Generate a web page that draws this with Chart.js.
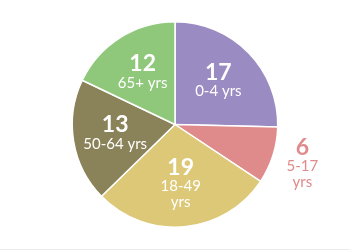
<!DOCTYPE html>
<html>
<head>
<meta charset="utf-8">
<script src="https://cdn.jsdelivr.net/npm/chart.js@4.4.0/dist/chart.umd.min.js"></script>
<style>
  html, body { margin: 0; padding: 0; background: #fff; }
  #wrap { width: 350px; height: 249px; border-bottom: 1px solid #ececec; }
</style>
</head>
<body>
<div id="wrap"><canvas id="pieChart" width="350" height="249"></canvas></div>
<script>
// --- DATA ---
const ageGroups = ['0-4 yrs', ['5-17', 'yrs'], ['18-49', 'yrs'], '50-64 yrs', '65+ yrs'];
const counts = [17, 6, 19, 13, 12];
const sliceColors = ['#9a8bc3', '#df8a8b', '#dcc877', '#8a8258', '#8fc87b'];

// draws the number + age group on (or beside) each slice
const sliceLabels = {
    id: 'sliceLabels',
    afterDatasetsDraw(chart) {
        const ctx = chart.ctx;
        const meta = chart.getDatasetMeta(0);
        const total = counts.reduce((a, b) => a + b, 0);
        meta.data.forEach((arc, i) => {
            const p = arc.getProps(['x', 'y', 'startAngle', 'endAngle', 'outerRadius'], true);
            const mid = (p.startAngle + p.endAngle) / 2;
            const outside = counts[i] / total < 0.1;
            const r = p.outerRadius * (outside ? 1.3 : 0.59);
            const cx = p.x + Math.cos(mid) * r;
            const cy = p.y + Math.sin(mid) * r;
            const lines = Array.isArray(ageGroups[i]) ? ageGroups[i] : [ageGroups[i]];
            const blockH = 19 + (lines.length - 1) * 15.5;
            let y = cy - blockH / 2;
            ctx.save();
            ctx.fillStyle = outside ? sliceColors[i] : '#ffffff';
            ctx.textAlign = 'center';
            ctx.textBaseline = 'middle';
            ctx.font = 'bold 23px Lato';
            ctx.fillText(String(counts[i]), cx, y);
            ctx.font = '15px Lato';
            y += 19;
            lines.forEach(line => {
                ctx.fillText(line, cx, y);
                y += 15.5;
            });
            ctx.restore();
        });
    }
};

new Chart(document.getElementById('pieChart'), {
    type: 'pie',
    data: {
        labels: ageGroups,
        datasets: [{
            data: counts,
            backgroundColor: sliceColors,
            borderColor: '#ffffff',
            borderWidth: 1.5
        }]
    },
    options: {
        responsive: false,
        animation: false,
        layout: { padding: { top: 21, bottom: 21 } },
        plugins: {
            legend: { display: false },
            tooltip: { enabled: false }
        }
    },
    plugins: [sliceLabels]
});
</script>
</body>
</html>
